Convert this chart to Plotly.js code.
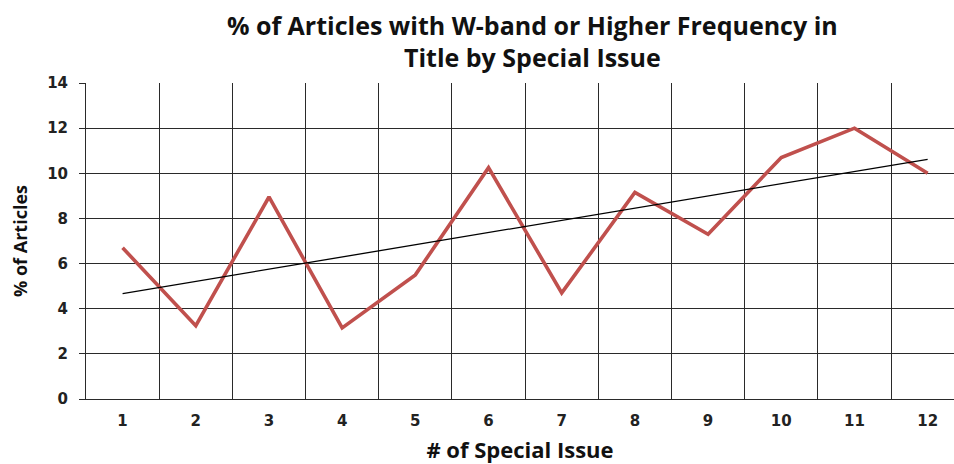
<!DOCTYPE html>
<html>
<head>
<meta charset="utf-8">
<script src="https://cdn.plot.ly/plotly-3.0.1.min.js"></script>
<style>html,body{margin:0;padding:0;background:#fff;}#chart{width:954px;height:464px;}</style>
</head>
<body>
<div id="chart"></div>
<script>
var categories = ['1','2','3','4','5','6','7','8','9','10','11','12'];
var pctArticles = [6.7, 3.25, 8.95, 3.15, 5.5, 10.25, 4.7, 9.15, 7.3, 10.7, 12.0, 10.0];
var trendX = ['1', '12'];
var trendY = [4.67, 10.62];
var yTicks = [0, 2, 4, 6, 8, 10, 12, 14];

var traces = [
  {x: categories, y: pctArticles, type: 'scatter', mode: 'lines',
   line: {color: '#C0504D', width: 3.6}, hoverinfo: 'x+y', showlegend: false},
  {x: trendX, y: trendY, type: 'scatter', mode: 'lines',
   line: {color: '#000000', width: 1.3}, hoverinfo: 'skip', showlegend: false}
];

var tickFont = {family: 'DejaVu Sans, Verdana, sans-serif', size: 15, color: '#222', weight: 'bold'};
var layout = {
  width: 954, height: 464,
  margin: {l: 86, r: 0, t: 83, b: 65},
  paper_bgcolor: '#ffffff', plot_bgcolor: '#ffffff',
  title: {
    text: '% of Articles with W-band or Higher Frequency in<br>Title by Special Issue',
    font: {family: 'Open Sans, sans-serif', size: 25, color: '#111', weight: 'bold'},
    x: 0.558, xref: 'container', xanchor: 'center',
    y: 0.925, yref: 'container', yanchor: 'top'
  },
  xaxis: {
    type: 'category',
    range: [-0.5, 11.36],
    tickson: 'boundaries',
    ticks: '',
    showgrid: true, gridcolor: '#2a2a2a', gridwidth: 1,
    showline: true, linecolor: '#2a2a2a', linewidth: 1,
    tickfont: tickFont,
    ticklabelstandoff: 8,
    title: {text: '# of Special Issue', standoff: 14,
            font: {family: 'Open Sans, sans-serif', size: 22, color: '#111', weight: 'bold'}},
    fixedrange: true
  },
  yaxis: {
    range: [0, 14],
    tickvals: yTicks,
    ticks: 'outside', ticklen: 6, tickcolor: '#2a2a2a',
    showgrid: true, gridcolor: '#2a2a2a', gridwidth: 1,
    zeroline: false,
    showline: true, linecolor: '#2a2a2a', linewidth: 1,
    tickfont: tickFont,
    ticklabelstandoff: 8,
    title: {text: '% of Articles', standoff: 14,
            font: {family: 'Open Sans, sans-serif', size: 18, color: '#111', weight: 'bold'}},
    fixedrange: true
  },
  hovermode: false
};

Plotly.newPlot('chart', traces, layout, {displayModeBar: false, staticPlot: true});
</script>
</body>
</html>
